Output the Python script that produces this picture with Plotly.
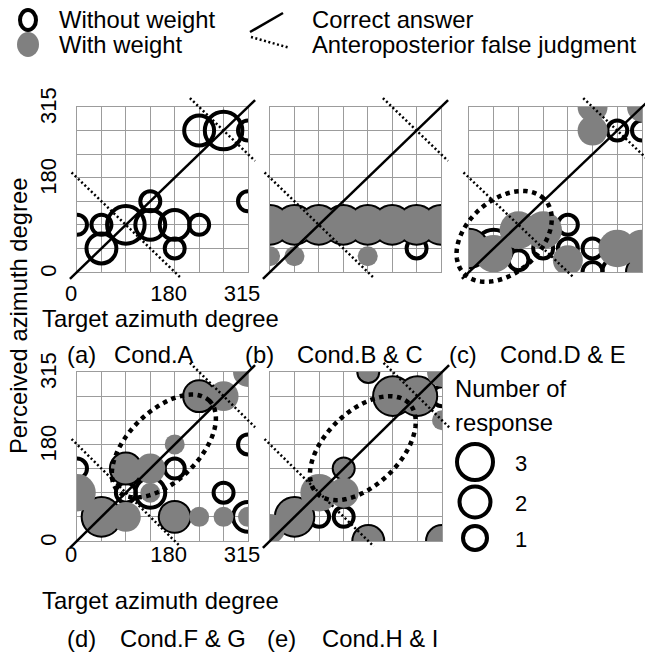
import numpy as np
import plotly.graph_objects as go

# ---------------------------------------------------------------------------
# Data: target azimuth (deg), perceived azimuth (deg), number of responses
# ---------------------------------------------------------------------------
# (a) Cond.A
A_OPEN_T = [0, 45, 45, 90, 135, 135, 180, 180, 225, 225, 270, 315, 315]
A_OPEN_P = [90, 90, 45, 90, 135, 90, 90, 45, 90, 270, 270, 270, 135]
A_OPEN_N = [1, 1, 2, 3, 1, 2, 2, 1, 1, 2, 3, 1, 1]
A_FILL_T = []
A_FILL_P = []
A_FILL_N = []

# (b) Cond.B & C
B_OPEN_T = [0, 45, 90, 135, 180, 225, 270, 315, 270]
B_OPEN_P = [90, 90, 90, 90, 90, 90, 90, 90, 45]
B_OPEN_N = [3, 3, 3, 3, 3, 3, 3, 3, 1]
B_FILL_T = [0, 45, 90, 135, 180, 225, 270, 315, 0, 45, 180]
B_FILL_P = [90, 90, 90, 90, 90, 90, 90, 90, 30, 30, 30]
B_FILL_N = [3, 3, 3, 3, 3, 3, 3, 3, 1, 1, 1]

# (c) Cond.D & E
C_OPEN_T = [0, 45, 90, 135, 180, 180, 225, 270, 315, 225, 270, 315, 270, 315]
C_OPEN_P = [45, 45, 22.5, 45, 90, 45, 45, 45, 45, 0, 0, 0, 270, 270]
C_OPEN_N = [3, 3, 1, 1, 1, 1, 1, 2, 2, 1, 2, 2, 1, 1]
C_FILL_T = [0, 45, 90, 135, 180, 270, 315, 315, 225, 225, 315]
C_FILL_P = [45, 35, 80, 80, 22.5, 45, 45, 0, 270, 315, 315]
C_FILL_N = [3, 3, 3, 3, 2, 3, 3, 2, 2, 2, 2]

# (d) Cond.F & G
D_OPEN_T = [0, 90, 90, 135, 180, 225, 315, 45, 180, 270, 315]
D_OPEN_P = [135, 135, 90, 90, 135, 270, 180, 45, 45, 90, 45]
D_OPEN_N = [1, 2, 1, 2, 1, 2, 1, 3, 2, 1, 2]
D_FILL_T = [0, 45, 90, 90, 135, 135, 180, 180, 225, 270, 315, 225, 270, 315]
D_FILL_P = [90, 45, 45, 135, 135, 90, 180, 45, 45, 45, 45, 270, 270, 315]
D_FILL_N = [3, 3, 2, 2, 2, 1, 1, 2, 1, 1, 1, 2, 2, 2]

# (e) Cond.H & I
E_OPEN_T = [180, 225, 270, 315, 135, 45, 90, 135, 180, 315]
E_OPEN_P = [315, 270, 270, 270, 135, 45, 45, 45, 0, 0]
E_OPEN_N = [1, 3, 3, 1, 1, 3, 1, 1, 2, 2]
E_FILL_T = [180, 225, 270, 315, 315, 135, 90, 135, 45, 0, 180, 315]
E_FILL_P = [315, 270, 270, 315, 225, 135, 90, 90, 45, 22.5, 0, 0]
E_FILL_N = [1, 3, 3, 2, 1, 1, 3, 2, 3, 2, 2, 2]

# Dotted ellipses marking response clusters: centre (deg), half-axes (deg)
ELLIPSE_C = dict(cx=64, cy=68, major=102, minor=68)
ELLIPSE_D = dict(cx=160, cy=177, major=119, minor=65)
ELLIPSE_E = dict(cx=170, cy=173, major=119, minor=68)

GRID_TICKS = [0, 45, 90, 135, 180, 225, 270, 315]
TICK_TEXT = ["0", "", "", "", "180", "", "", "315"]

# ---------------------------------------------------------------------------
# Layout constants
# ---------------------------------------------------------------------------
W, H = 645, 653
FONT = "Liberation Sans, Arial, sans-serif"
GRID = "#9c9c9c"
GRAY = "#808080"
TXT = 23.8
RING_W = 4

# plot areas in pixels: left, top, right, bottom
PANELS = {
    "a": (77, 107, 248, 272),
    "b": (270, 107, 441, 272),
    "c": (469, 107, 642, 272),
    "d": (77, 372, 248, 541),
    "e": (270, 372, 442, 541),
}
# x tick-label standoff for the two labelled panels
X_STANDOFF = {"a": 1, "d": -7}

SERIES = {
    "a": (A_OPEN_T, A_OPEN_P, A_OPEN_N, A_FILL_T, A_FILL_P, A_FILL_N, None),
    "b": (B_OPEN_T, B_OPEN_P, B_OPEN_N, B_FILL_T, B_FILL_P, B_FILL_N, None),
    "c": (C_OPEN_T, C_OPEN_P, C_OPEN_N, C_FILL_T, C_FILL_P, C_FILL_N, ELLIPSE_C),
    "d": (D_OPEN_T, D_OPEN_P, D_OPEN_N, D_FILL_T, D_FILL_P, D_FILL_N, ELLIPSE_D),
    "e": (E_OPEN_T, E_OPEN_P, E_OPEN_N, E_FILL_T, E_FILL_P, E_FILL_N, ELLIPSE_E),
}

AX_MAX = 315.0


def px(x):
    return x / W


def py(y):
    return 1 - y / H


def ring_size(n):
    return 24 * np.sqrt(np.asarray(n, dtype=float)) - RING_W


def disc_size(n):
    return 24 * np.sqrt(np.asarray(n, dtype=float)) - 4


fig = go.Figure()
shapes = []
annotations = []
axes = {}

for k, key in enumerate("abcde", start=1):
    l, t, r, b = PANELS[key]
    sfx = "" if k == 1 else str(k)
    xname, yname = "x" + sfx, "y" + sfx
    show = key in ("a", "d")
    common = dict(
        range=[0, AX_MAX], tickvals=GRID_TICKS, ticktext=TICK_TEXT,
        showticklabels=show, showgrid=True, gridcolor=GRID, gridwidth=1.3,
        showline=True, mirror=True, linecolor=GRID, linewidth=1.3,
        zeroline=False, ticks="", fixedrange=True, automargin=False,
        tickfont=dict(size=22, color="black", family=FONT),
    )
    axes["xaxis" + sfx] = dict(common, domain=[px(l), px(r)], anchor=yname,
                               ticklabelstandoff=X_STANDOFF.get(key, 0),
                               ticklabelshift=-6)
    axes["yaxis" + sfx] = dict(common, domain=[py(b), py(t)], anchor=xname,
                               tickangle=-90, ticklabelstandoff=11,
                               ticklabelshift=2)

    ot, op, on, ft, fp, fn, ell = SERIES[key]
    if ot:
        fig.add_trace(go.Scatter(
            x=ot, y=op, mode="markers", xaxis=xname, yaxis=yname,
            showlegend=False, cliponaxis=True,
            marker=dict(symbol="circle-open", size=ring_size(on), color="black",
                        opacity=1, line=dict(width=RING_W, color="black"))))
    if ft:
        fig.add_trace(go.Scatter(
            x=ft, y=fp, mode="markers", xaxis=xname, yaxis=yname,
            showlegend=False, cliponaxis=True,
            marker=dict(symbol="circle", size=disc_size(fn), color=GRAY,
                        opacity=1, line=dict(width=0))))

    xref, yref = xname + " domain", yname + " domain"

    def seg(x0, y0, x1, y1, **line):
        shapes.append(dict(type="line", xref=xref, yref=yref,
                           x0=x0 / AX_MAX, y0=y0 / AX_MAX,
                           x1=x1 / AX_MAX, y1=y1 / AX_MAX, line=line))

    # correct answer: perceived = target
    seg(-13, -13, 328, 328, color="black", width=2.5)
    # anteroposterior false judgment: perceived = 180 - target (mod 360)
    seg(-10, 190, 190, -10, color="black", width=2.5, dash="2px,2.5px")
    seg(208, 332, 328, 212, color="black", width=2.5, dash="2px,2.5px")

    if ell:
        tt = np.linspace(0, 2 * np.pi, 121)
        u = np.array([1, 1]) / np.sqrt(2)
        v = np.array([-1, 1]) / np.sqrt(2)
        ex = ell["cx"] + ell["major"] * np.cos(tt) * u[0] + ell["minor"] * np.sin(tt) * v[0]
        ey = ell["cy"] + ell["major"] * np.cos(tt) * u[1] + ell["minor"] * np.sin(tt) * v[1]
        path = "M" + " L".join(f"{xv / AX_MAX:.5f},{yv / AX_MAX:.5f}"
                               for xv, yv in zip(ex, ey)) + " Z"
        shapes.append(dict(type="path", xref=xref, yref=yref, path=path,
                           line=dict(color="black", width=4.5, dash="4.5px,4.5px")))


def text(s, x, y, anchor="left", size=TXT, angle=0):
    annotations.append(dict(text=s, x=px(x), y=py(y), xref="paper", yref="paper",
                            xanchor=anchor, yanchor="middle", showarrow=False,
                            textangle=angle,
                            font=dict(size=size, color="black", family=FONT)))


def ring(cx, cy, rx, ry, width):
    shapes.append(dict(type="circle", xref="paper", yref="paper",
                       x0=px(cx - rx), x1=px(cx + rx), y0=py(cy + ry), y1=py(cy - ry),
                       line=dict(color="black", width=width),
                       fillcolor="rgba(0,0,0,0)"))


# top legend
ring(28, 20, 8, 10, 4)
shapes.append(dict(type="circle", xref="paper", yref="paper",
                   x0=px(17), x1=px(39), y0=py(57), y1=py(32),
                   line=dict(width=0), fillcolor=GRAY))
text("Without weight", 57, 19)
text("With weight", 57, 44)
shapes.append(dict(type="line", xref="paper", yref="paper",
                   x0=px(250), y0=py(32), x1=px(283), y1=py(13),
                   line=dict(color="black", width=2.5)))
shapes.append(dict(type="line", xref="paper", yref="paper",
                   x0=px(251), y0=py(37), x1=px(290), y1=py(48),
                   line=dict(color="black", width=2.5, dash="2px,2.5px")))
text("Correct answer", 310, 19)
text("Anteroposterior false judgment", 310, 44)

# panel captions and axis titles
text("Target azimuth degree", 40, 318)
text("Target azimuth degree", 40, 600)
text("Perceived azimuth degree", 18, 316, anchor="center", angle=-90)
for lab, name, xl, xn, yy in [("(a)", "Cond.A", 65, 112, 354),
                              ("(b)", "Cond.B & C", 243, 295, 354),
                              ("(c)", "Cond.D & E", 447, 498, 354),
                              ("(d)", "Cond.F & G", 65, 118, 638),
                              ("(e)", "Cond.H & I", 265, 320, 638)]:
    text(lab, xl, yy)
    text(name, xn, yy)

# number-of-response legend
text("Number of", 453, 388)
text("response", 453, 422)
for cy, outer, lab in [(462, 40, "3"), (502, 35, "2"), (538, 28, "1")]:
    rr = (outer - 4) / 2
    ring(475, cy, rr, rr, 4)
    text(lab, 513, cy + 1, size=22)

fig.update_layout(
    width=W, height=H,
    margin=dict(l=0, r=0, t=0, b=0, pad=0, autoexpand=False),
    paper_bgcolor="white", plot_bgcolor="white",
    font=dict(family=FONT, color="black"),
    showlegend=False, shapes=shapes, annotations=annotations, **axes,
)

fig.write_html("out.html", post_script="document.body.style.margin='0';")
